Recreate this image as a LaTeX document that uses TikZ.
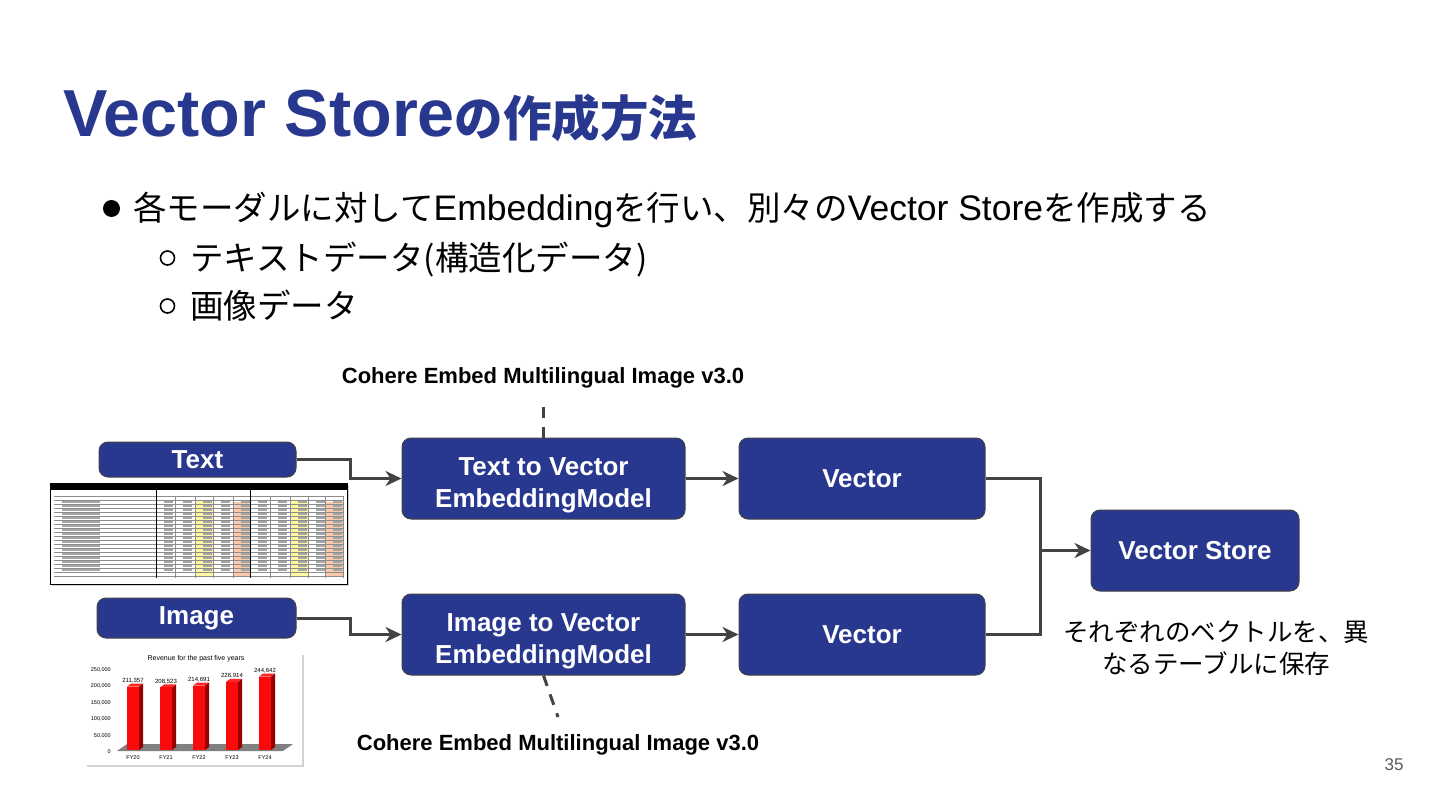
\documentclass[tikz,border=0pt]{standalone}
\usepackage{fontspec}
\setmainfont{Liberation Sans}
\newfontfamily\cjk{Noto Sans CJK JP}
\usetikzlibrary{arrows, arrows.meta, positioning, shadows}
\definecolor{slideblue}{RGB}{41,56,143}
\definecolor{linegray}{RGB}{67,67,67}
\definecolor{cellyellow}{RGB}{255,249,160}
\definecolor{cellorange}{RGB}{250,200,170}
\definecolor{barred}{RGB}{250,10,10}
\definecolor{bardark}{RGB}{150,0,0}
\newcommand{\japart}{\cjk\fontsize{33.5}{40}\selectfont}
\newcommand{\latinpart}{\rmfamily\fontsize{35.5}{40}\selectfont}

\begin{document}
\begin{tikzpicture}[x=1pt, y=-1pt,
			>={Stealth[length=16pt,width=15pt,inset=5pt]},   %Pfeilspitzen
			blockbox/.style={draw=linegray, line width=1pt, fill=slideblue, rounded corners=9pt, text=white, align=center, inner sep=0pt, font=\bfseries\fontsize{26}{32}\selectfont},
			flow/.style={draw=linegray, line width=3pt},
			modellabel/.style={font=\bfseries\fontsize{22}{26}\selectfont},
			picframe/.style={fill=white, drop shadow={opacity=0.35, shadow xshift=2pt, shadow yshift=-2pt}}]
			%Hintergrund
			\fill[white] (0,0) rectangle (1440,810);
			\useasboundingbox (0,0) rectangle (1440,810);
			% Titel
			\node[anchor=base west, text=slideblue, inner sep=0pt, font=\bfseries\fontsize{66.5}{70}\selectfont] (title) at (63,137) {Vector Store{\cjk\fontsize{48.5}{56}\selectfont の作成方法}};
			% Aufzaehlung
			\fill (111.5,208.5) circle (8.5);
			\node[anchor=base west, inner sep=0pt] (bullet) at (133,221) {\japart 各モーダルに対して{\latinpart Embedding}を行い、別々の{\latinpart Vector Store}を作成する};
			\draw[line width=1.6pt] (167.5,258) circle (7);
			\node[anchor=base west, inner sep=0pt] (subtext) at (190,271) {\japart テキストデータ(構造化データ)};
			\draw[line width=1.6pt] (167.5,306) circle (7);
			\node[anchor=base west, inner sep=0pt] (subimage) at (190,319) {\japart 画像データ};
			% Bloecke
			\node[blockbox, minimum width=197pt, minimum height=35pt] (txtin) at (197.5,459.5) {Text};
			\node[blockbox, minimum width=199pt, minimum height=40pt] (imgin) at (196.5,618) {Image};
			\node[blockbox, minimum width=283pt, minimum height=81pt] (embT) at (543.5,478.5) {\rule{0pt}{32pt}Text to Vector\\EmbeddingModel};
			\node[blockbox, minimum width=283pt, minimum height=81pt] (embI) at (543.5,634.5) {\rule{0pt}{32pt}Image to Vector\\EmbeddingModel};
			\node[blockbox, minimum width=246pt, minimum height=81pt] (vecT) at (862,478.5) {Vector};
			\node[blockbox, minimum width=246pt, minimum height=81pt] (vecI) at (862,634.5) {Vector};
			\node[blockbox, minimum width=208pt, minimum height=81pt] (store) at (1195,550.5) {Vector Store};
			% Modellnamen
			\node[modellabel] (toplabel) at (543,378) {Cohere Embed Multilingual Image v3.0};
			\node[modellabel] (botlabel) at (558,745) {Cohere Embed Multilingual Image v3.0};
			\coordinate (topend) at (543.5,405);
			\coordinate (botend) at (558,717);
			\draw[linegray, line width=3pt, dash pattern=on 11pt off 9pt] (embT.north) -- (topend);
			\draw[linegray, line width=3pt, dash pattern=on 11pt off 9pt] (embI.south) -- (botend);
			% Verbindungen
			\draw[flow,->] (txtin.east) -- ++(54,0) |- (embT.west);
			\draw[flow,->] (imgin.east) -- ++(54,0) |- (embI.west);
			\draw[flow,->] (embT) -- (vecT);
			\draw[flow,->] (embI) -- (vecI);
			\coordinate (merge) at (1040,550.5);
			\draw[flow] (vecT.east) -| (merge) |- (vecI.east);
			\draw[flow,->] (merge) -- (store.west);
			% Beschriftung
			\node[align=center, font=\cjk\fontsize{25.5}{32}\selectfont] (caption) at (1216,648) {それぞれのベクトルを、異\\なるテーブルに保存};
			\node[text=black!65, font=\fontsize{17}{20}\selectfont] (pagenum) at (1394,765) {35};
			% Tabelle
			\path[picframe] (50,483) rectangle (347,584);
			\fill (50,483) rectangle (347,490);
			\fill[cellyellow] (195,500) rectangle (213,576);
			\fill[cellyellow] (290,500) rectangle (308,576);
			\fill[cellorange] (233,502) rectangle (250,576);
			\fill[cellorange] (325,502) rectangle (343,576);
			\foreach \y in {496,500,...,576} \draw[black!45, line width=0.4pt] (54,\y) -- (343,\y);
			\foreach \x in {156,175,195,213,233,250,270,290,308,325,343} \draw[black!45, line width=0.4pt] (\x,496) -- (\x,578);
			\draw[line width=0.8pt] (250,490) -- (250,578);
			\draw[line width=0.8pt] (156,490) -- (156,578);
			\foreach \y in {504,508,...,572} {
				\draw[black!35, line width=1.2pt] (62,\y-2) -- (100,\y-2);
				\foreach \x in {156,175,195,213,233,250,270,290,308,325} \draw[black!35, line width=1.2pt] (\x+8,\y-2) -- (\x+17,\y-2);
			}
			\draw[line width=0.6pt] (50,483) rectangle (347,584);
			% Diagramm
			\path[picframe] (85,653) rectangle (302,765);
			\node[font=\fontsize{7}{8}\selectfont] (charttitle) at (196,659) {Revenue for the past five years};
			\foreach \v/\lab in {0/0, 50/{50,000}, 100/{100,000}, 150/{150,000}, 200/{200,000}, 250/{250,000}}
				\node[anchor=east, inner sep=0pt, font=\fontsize{5.5}{6}\selectfont] at (111,752-\v*0.328) {\lab};
			\fill[gray] (117,751) -- (127,744) -- (293,744) -- (283,751) -- cycle;
			\foreach \v/\lab/\fy [count=\i from 0] in {211.357/{211,357}/FY20, 208.523/{208,523}/FY21, 214.691/{214,691}/FY22, 226.914/{226,914}/FY23, 244.642/{244,642}/FY24} {
				\pgfmathsetmacro{\cx}{133+33*\i}
				\pgfmathsetmacro{\bartop}{750-\v*0.3}
				\fill[bardark] (\cx+6,\bartop) -- (\cx+10,\bartop-3) -- (\cx+10,747) -- (\cx+6,750) -- cycle;
				\fill[red!85!white] (\cx-6,\bartop) -- (\cx-2,\bartop-3) -- (\cx+10,\bartop-3) -- (\cx+6,\bartop) -- cycle;
				\fill[barred] (\cx-6,\bartop) rectangle (\cx+6,750);
				\node[font=\fontsize{6}{7}\selectfont, inner sep=0pt] at (\cx,\bartop-6) {\lab};
				\node[font=\fontsize{5.5}{6}\selectfont, inner sep=0pt] at (\cx,758) {\fy};
			}
		\end{tikzpicture}
\end{document}
